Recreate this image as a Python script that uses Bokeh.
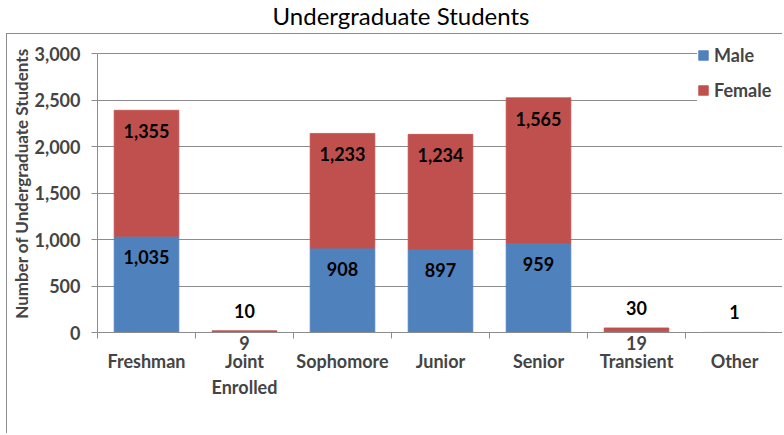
from bokeh.plotting import figure
from bokeh.models import (ColumnDataSource, FixedTicker, Legend, LegendItem, Div,
                          Range1d, NumeralTickFormatter, LabelSet, LinearAxis)
from bokeh.layouts import column
from bokeh.core.properties import value
from bokeh.embed import file_html
from bokeh.resources import INLINE

title_text = "Undergraduate Students"
y_label = "Number of Undergraduate Students"
categories = ["Freshman", "Joint\nEnrolled", "Sophomore", "Junior", "Senior", "Transient", "Other"]
male = [1035, 9, 908, 897, 959, 19, 0]
female = [1355, 10, 1233, 1234, 1565, 30, 1]
y_ticks = [0, 500, 1000, 1500, 2000, 2500, 3000]

BLUE = "#4F81BD"
RED = "#C0504D"
GRID = "#8C8C8C"
FONT = "Lato"
FS = "18px"

n = len(categories)
xs = [i + 0.5 for i in range(n)]
total = [m + f for m, f in zip(male, female)]
y_max = y_ticks[-1]

src = ColumnDataSource(dict(x=xs, male=male, female=female, total=total))

# frame reaches a little above the top gridline so the legend fits beside it
p = figure(width=776, height=400, output_backend="svg", toolbar_location=None,
           x_range=Range1d(0, n), y_range=Range1d(0, y_max * 1.0683),
           min_border_left=80, min_border_right=0, min_border_top=0, min_border_bottom=102)
p.margin = (0, 0, 0, 6)
p.styles = {"border-left": "1px solid #8C8C8C", "border-top": "1px solid #8C8C8C"}
p.outline_line_color = None
p.background_fill_color = "white"

r_m = p.vbar(x="x", bottom=0, top="male", width=0.66, source=src,
             fill_color=BLUE, line_color=BLUE, line_width=0.8)
r_f = p.vbar(x="x", bottom="male", top="total", width=0.66, source=src,
             fill_color=RED, line_color=RED, line_width=0.8)

# data labels inside / above the bars
ml_x, ml_y, ml_t = [], [], []
small_x, small_t = [], []
for x, m in zip(xs, male):
    if m <= 0:
        continue
    if m >= 100:
        ml_x.append(x); ml_y.append(m); ml_t.append(f"{m:,}")
    else:
        small_x.append(x); small_t.append(f"{m:,}")
fl_x, fl_y, fl_t, fl_off = [], [], [], []
for x, f, t in zip(xs, female, total):
    fl_x.append(x)
    fl_y.append(t)
    fl_off.append(-21 if f >= 100 else 20)
    fl_t.append(f"{f:,}")

msrc = ColumnDataSource(dict(x=ml_x, y=ml_y, t=ml_t, off=[-21] * len(ml_x)))
fsrc = ColumnDataSource(dict(x=fl_x, y=fl_y, t=fl_t, off=fl_off))
for s in (msrc, fsrc):
    ls = LabelSet(x="x", y="y", text="t", y_offset="off", source=s,
                  text_font=value(FONT), text_font_style="bold", text_font_size=FS,
                  text_color="black", text_align="center", text_baseline="middle")
    p.add_layout(ls)

# grid / y axis
p.xgrid.grid_line_color = None
p.ygrid.grid_line_color = GRID
p.ygrid.ticker = FixedTicker(ticks=y_ticks)

p.yaxis.ticker = FixedTicker(ticks=y_ticks)
p.yaxis.bounds = (0, y_max)
p.yaxis.formatter = NumeralTickFormatter(format="0,0")
p.yaxis.axis_line_color = GRID
p.yaxis.major_tick_line_color = GRID
p.yaxis.major_tick_out = 6
p.yaxis.major_tick_in = 0
p.yaxis.minor_tick_line_color = None
p.yaxis.major_label_standoff = 11
p.yaxis.major_label_text_font = FONT
p.yaxis.major_label_text_font_style = "bold"
p.yaxis.major_label_text_font_size = FS
p.yaxis.axis_label = y_label
p.yaxis.axis_label_text_font = FONT
p.yaxis.axis_label_text_font_style = "bold"
p.yaxis.axis_label_text_font_size = "17px"
p.yaxis.axis_label_standoff = 0

# primary x axis: boundary ticks + labels of tiny male segments
xa = p.xaxis[0]
xa.ticker = FixedTicker(ticks=small_x, minor_ticks=list(range(n + 1)))
xa.major_label_overrides = {x: t for x, t in zip(small_x, small_t)}
xa.axis_line_color = GRID
xa.major_tick_line_color = None
xa.major_tick_out = 0
xa.major_tick_in = 0
xa.minor_tick_line_color = GRID
xa.minor_tick_out = 6
xa.minor_tick_in = 0
xa.major_label_standoff = -3
xa.major_label_text_font = FONT
xa.major_label_text_font_style = "bold"
xa.major_label_text_font_size = FS

# category axis
ca = LinearAxis(ticker=FixedTicker(ticks=xs),
                major_label_overrides={x: c for x, c in zip(xs, categories)})
ca.axis_line_color = None
ca.major_tick_line_color = None
ca.minor_tick_line_color = None
ca.major_tick_out = 0
ca.major_tick_in = 0
ca.major_label_standoff = -3
ca.major_label_text_font = FONT
ca.major_label_text_font_style = "bold"
ca.major_label_text_font_size = FS
p.add_layout(ca, "below")

legend = Legend(items=[LegendItem(label="Male", renderers=[r_m]),
                       LegendItem(label="Female", renderers=[r_f])],
                location=(600, 231), padding=10, spacing=13,
                glyph_width=12, glyph_height=12, label_height=20, label_width=68,
                label_standoff=5,
                label_text_font=FONT, label_text_font_style="bold", label_text_font_size=FS,
                background_fill_color="white", background_fill_alpha=1.0,
                border_line_color=None)
p.add_layout(legend)

title = Div(text=title_text, width=776, height=23,
            styles={"font-family": FONT, "font-size": "24px", "text-align": "center",
                    "text-indent": "16px", "line-height": "22px", "color": "black",
                    "width": "776px"})

layout = column(title, p, spacing=0)
open("out.html", "w").write(file_html(layout, INLINE))
